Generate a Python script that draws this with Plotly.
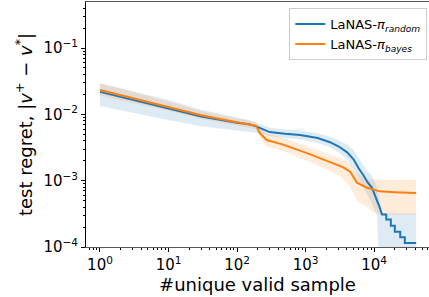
import plotly.graph_objects as go

# ---- data ----
blue_n = [1, 3, 10, 30, 100, 150, 190, 250, 300, 500, 830, 1500, 2270, 3000, 4000, 5000, 5900,
          7000, 8000, 9300, 11000, 12000, 13000, 15000, 15000, 17500, 17500, 20000, 20000, 24000, 24000,
          28000, 28000, 41000]
blue_mean = [0.0218, 0.0165, 0.0123, 0.0093, 0.0075, 0.0071, 0.0066, 0.0058, 0.0054, 0.0051, 0.0049, 0.0044,
             0.0038, 0.0033, 0.0027, 0.0021, 0.00155, 0.0012, 0.00095, 0.00078, 0.00051, 0.0004, 0.00031,
             0.00031, 0.00026, 0.00026, 0.00021, 0.00021, 0.00017, 0.00017, 0.00014, 0.00014, 0.000115, 0.000115]
blue_low = [0.0134, 0.0105, 0.0082, 0.0066, 0.0057, 0.0055, 0.0053, 0.0050, 0.0047, 0.0044, 0.0042, 0.0037,
            0.0032, 0.0027, 0.0021, 0.0015, 0.0011, 0.0008, 0.0006, 0.00045, 0.0003, 0.00003, 0.00003,
            0.00003, 0.00003, 0.00003, 0.00003, 0.00003, 0.00003, 0.00003, 0.00003, 0.00003, 0.00003, 0.00003]
blue_high = [0.0295, 0.0222, 0.0165, 0.0117, 0.0089, 0.0082, 0.0075, 0.0068, 0.0063, 0.0059, 0.0057, 0.0052,
             0.0046, 0.0041, 0.0035, 0.0029, 0.0022, 0.0017, 0.0014, 0.0012, 0.0008, 0.0005, 0.00033,
             0.00032, 0.00032, 0.00032, 0.00032, 0.00032, 0.00032, 0.00032, 0.00032, 0.00032, 0.00032, 0.00032]

orange_n = [1, 3, 10, 30, 100, 150, 190, 215, 270, 470, 1050, 2270, 3500, 4500, 5600, 7900, 10000,
            12000, 20000, 41000]
orange_mean = [0.0233, 0.0175, 0.0130, 0.0097, 0.0076, 0.0071, 0.0067, 0.0052, 0.0041, 0.0035, 0.0026,
               0.0019, 0.0016, 0.00135, 0.00093, 0.00078, 0.00072, 0.00069, 0.00067, 0.00065]
orange_low = [0.0190, 0.0150, 0.0113, 0.0085, 0.0068, 0.0063, 0.0060, 0.0045, 0.0033, 0.0028, 0.0020,
              0.0014, 0.0011, 0.0008, 0.0005, 0.0004, 0.00033, 0.00031, 0.00031, 0.00031]
orange_high = [0.0295, 0.0220, 0.0155, 0.0112, 0.0086, 0.0081, 0.0075, 0.0062, 0.0051, 0.0044, 0.0033,
               0.0025, 0.0021, 0.0018, 0.0013, 0.00105, 0.00103, 0.00103, 0.00103, 0.00103]

series_names = ["LaNAS-<i>π</i><sub><i>random</i></sub>", "LaNAS-<i>π</i><sub><i>bayes</i></sub>"]
series_colors = ["#1f77b4", "#ff7f0e"]
band_colors = ["rgba(31,119,180,0.15)", "rgba(255,127,14,0.15)"]

x_tickvals = [1, 10, 100, 1000, 10000]
x_ticktext = ["10<sup>0</sup>", "10<sup>1</sup>", "10<sup>2</sup>", "10<sup>3</sup>", "10<sup>4</sup>"]
y_tickvals = [1e-4, 1e-3, 1e-2, 1e-1]
y_ticktext = ["10<sup>−4</sup>", "10<sup>−3</sup>", "10<sup>−2</sup>", "10<sup>−1</sup>"]

fig = go.Figure()
data = [(blue_n, blue_mean, blue_low, blue_high), (orange_n, orange_mean, orange_low, orange_high)]
for i, (n, m, lo, hi) in enumerate(data):
    fig.add_trace(go.Scatter(x=n, y=lo, mode="lines", line=dict(width=0), showlegend=False, hoverinfo="skip"))
    fig.add_trace(go.Scatter(x=n, y=hi, mode="lines", line=dict(width=0), fill="tonexty",
                             fillcolor=band_colors[i], showlegend=False, hoverinfo="skip"))
for i, (n, m, lo, hi) in enumerate(data):
    fig.add_trace(go.Scatter(x=n, y=m, mode="lines", name=series_names[i],
                             line=dict(color=series_colors[i], width=2)))

font = dict(family="DejaVu Sans", size=15, color="black")
fig.update_layout(
    width=429, height=297,
    margin=dict(l=86, r=0, t=2, b=50, autoexpand=False),
    paper_bgcolor="white", plot_bgcolor="white",
    font=font,
    showlegend=True,
    legend=dict(x=0.995, y=0.975, xanchor="right", yanchor="top", xref="paper", yref="paper",
                traceorder="normal",
                bgcolor="rgba(255,255,255,0.8)", bordercolor="#cccccc", borderwidth=1,
                font=dict(family="DejaVu Sans", size=13, color="black"),
                tracegroupgap=0),
)
fig.update_xaxes(type="log", range=[-0.204, 4.80], automargin=False,
                 tickmode="array", tickvals=x_tickvals, ticktext=x_ticktext,
                 ticks="outside", ticklen=4, tickcolor="black",
                 showline=True, linecolor="#555555", linewidth=1, mirror=True,
                 showgrid=False, zeroline=False,
                 minor=dict(ticks="outside", ticklen=2, tickcolor="black", dtick="D1", showgrid=False),
                 title=dict(text="#unique valid sample", standoff=4))
fig.update_yaxes(type="log", range=[-4, -0.306], automargin=False,
                 tickmode="array", tickvals=y_tickvals, ticktext=y_ticktext,
                 ticks="outside", ticklen=4, tickcolor="black",
                 showline=True, linecolor="black", linewidth=1, mirror=False,
                 showgrid=False, zeroline=False,
                 minor=dict(ticks="outside", ticklen=2, tickcolor="black", dtick="D1", showgrid=False),
                 title=dict(text="test regret, |<i>v</i><sup>+</sup> − <i>v</i><sup>*</sup>|", standoff=6))

fig.write_html("out.html", config={"displayModeBar": False},
               post_script="document.body.style.margin='0px';document.body.style.padding='0px';")
